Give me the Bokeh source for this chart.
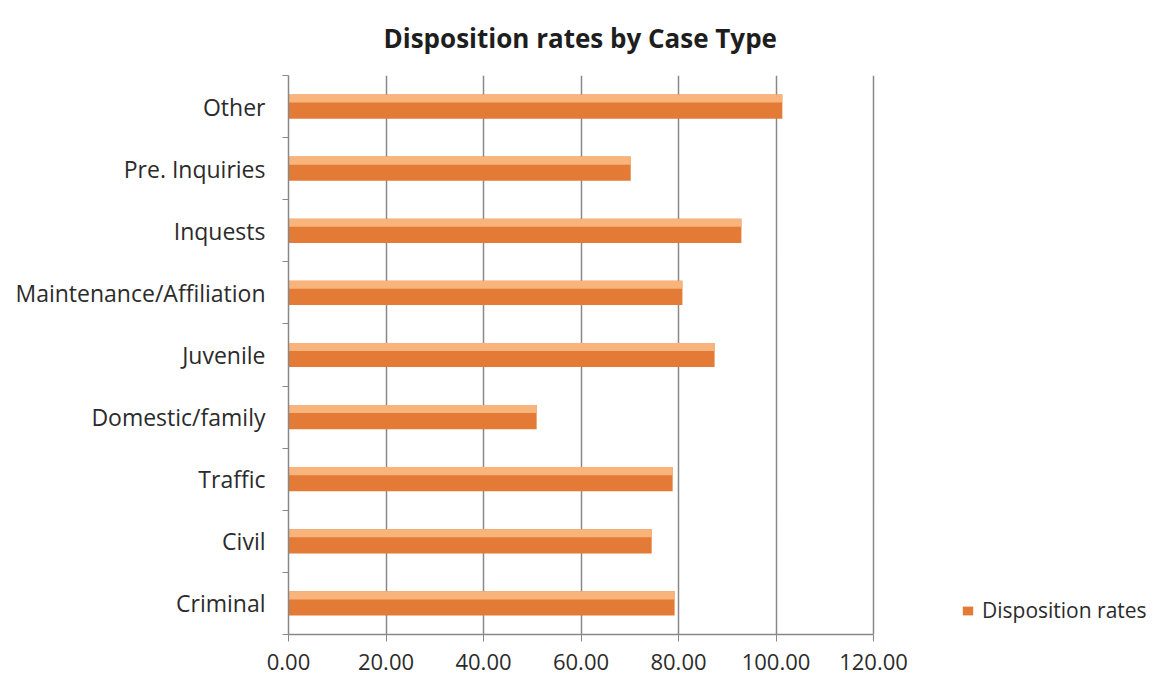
from bokeh.plotting import figure
from bokeh.models import FixedTicker, NumeralTickFormatter, Legend, LegendItem, Range1d, ColumnDataSource
from bokeh.embed import file_html
from bokeh.resources import INLINE

categories = ["Criminal", "Civil", "Traffic", "Domestic/family", "Juvenile",
              "Maintenance/Affiliation", "Inquests", "Pre. Inquiries", "Other"]
rates = [79.2, 74.5, 78.8, 50.9, 87.4, 80.8, 92.9, 70.2, 101.3]
x_ticks = [0, 20, 40, 60, 80, 100, 120]

FONT = "Open Sans"
TXT = "#2b2b2b"

FRAME_L, FRAME_R = 288, 1155
AXIS_PX = 585  # pixel length of 0..120
x_end = x_ticks[-1] * (FRAME_R - FRAME_L) / AXIS_PX

ypos = [i + 0.5 for i in range(len(categories))]
src = ColumnDataSource(dict(y=ypos, top=[v + 0.13 for v in ypos], rate=rates, cat=categories))

p = figure(width=1155, height=690, output_backend="svg", toolbar_location=None,
           x_range=Range1d(0, x_end), y_range=Range1d(0, len(categories)),
           min_border_left=FRAME_L, min_border_right=1155 - FRAME_R,
           min_border_top=75, min_border_bottom=56)
p.title.text = "Disposition rates by Case Type"
p.title.align = "left"
p.title.offset = 95
p.title.vertical_align = "top"
p.title.text_line_height = 0.5
p.title.text_font = FONT
p.title.text_font_size = "26px"
p.title.text_font_style = "bold"
p.title.text_color = "#1e1e1e"
p.title.standoff = 36
p.outline_line_color = None
p.background_fill_color = "white"

r = p.hbar(y="y", right="rate", left=0, height=0.39, source=src, color="#E37A36", line_color=None)
p.hbar(y="top", right="rate", left=0, height=0.13, source=src, color="#F8B47B", line_color=None)

# x axis
p.xaxis.ticker = FixedTicker(ticks=x_ticks)
p.xaxis.bounds = (x_ticks[0], x_ticks[-1])
p.xaxis.formatter = NumeralTickFormatter(format="0.00")
p.xaxis.axis_line_color = "#888888"
p.xaxis.axis_line_width = 1.5
p.xaxis.major_tick_line_color = "#888888"
p.xaxis.major_tick_out = 7
p.xaxis.major_tick_in = 0
p.xaxis.minor_tick_line_color = None
p.xaxis.major_label_text_font = FONT
p.xaxis.major_label_text_font_size = "22px"
p.xaxis.major_label_text_color = TXT
p.xaxis.major_label_standoff = 12

# y axis
p.yaxis.ticker = FixedTicker(ticks=ypos, minor_ticks=list(range(len(categories) + 1)))
p.yaxis.major_label_overrides = {v: c for v, c in zip(ypos, categories)}
p.yaxis.axis_line_color = "#888888"
p.yaxis.axis_line_width = 1.5
p.yaxis.major_tick_line_color = None
p.yaxis.minor_tick_line_color = "#888888"
p.yaxis.minor_tick_out = 6
p.yaxis.minor_tick_in = 0
p.yaxis.major_label_text_font = FONT
p.yaxis.major_label_text_font_size = "23px"
p.yaxis.major_label_text_color = TXT
p.yaxis.major_label_standoff = 17

p.xgrid.ticker = FixedTicker(ticks=x_ticks[1:])
p.xgrid.grid_line_color = "#888888"
p.xgrid.grid_line_width = 1.5
p.ygrid.grid_line_color = None

legend = Legend(items=[LegendItem(label="Disposition rates", renderers=[r])],
                location=(673, 10), border_line_color=None, background_fill_alpha=0,
                label_text_font=FONT, label_text_font_size="21px", label_text_color=TXT,
                glyph_width=13, glyph_height=11, label_standoff=8, padding=0, margin=0)
p.add_layout(legend, "center")

open("out.html", "w").write(file_html(p, INLINE))
